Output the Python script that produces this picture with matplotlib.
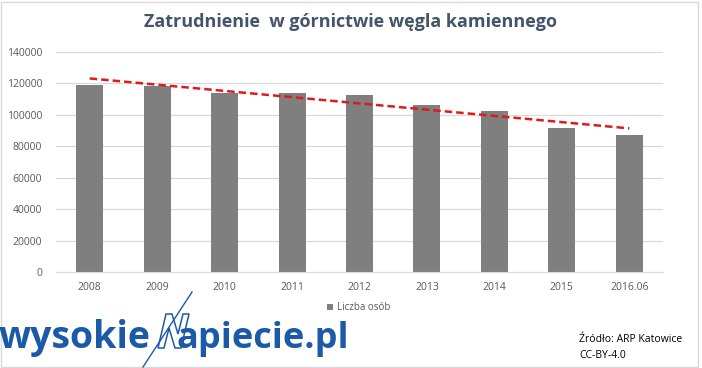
import matplotlib
matplotlib.use("Agg")
import matplotlib.pyplot as plt
import numpy as np
from matplotlib.patches import Rectangle, Polygon

categories = ["2008", "2009", "2010", "2011", "2012", "2013", "2014", "2015", "2016.06"]
values = [119000, 118400, 114100, 113900, 112600, 106300, 102500, 91600, 87200]
yticks = [0, 20000, 40000, 60000, 80000, 100000, 120000, 140000]

plt.rcParams['font.family'] = ['Open Sans', 'DejaVu Sans']

fig = plt.figure(figsize=(7.02, 3.68), dpi=100)
W, H = 702, 368
ax = fig.add_axes([56 / W, 1 - 272 / H, (663 - 56) / W, (272 - 52) / H])

x = np.arange(len(categories))
ax.bar(x, values, width=0.4, color="#7F7F7F", label="Liczba osób", zorder=2)

# linear trend line (Excel-style)
coef = np.polyfit(x, values, 1)
ax.plot(x, np.polyval(coef, x), color="#E0191B", linestyle=(0, (3, 1.6)), linewidth=1.8, zorder=3)

ax.set_xlim(-0.5, len(categories) - 0.5)
ax.set_ylim(0, 140000)
ax.set_yticks(yticks)
ax.set_yticklabels([str(v) for v in yticks])
ax.set_xticks(x)
ax.set_xticklabels(categories)
ax.tick_params(axis='both', length=0, labelsize=7.5, colors="#595959")
ax.tick_params(axis='y', pad=10)
ax.tick_params(axis='x', pad=7)
ax.grid(axis='y', color="#D9D9D9", linewidth=0.9, zorder=0)
for s in ["top", "right", "left"]:
    ax.spines[s].set_visible(False)
ax.spines["bottom"].set_color("#D9D9D9")

fig.text(351 / W, 1 - 22 / H, "Zatrudnienie  w górnictwie węgla kamiennego",
         ha="center", va="center", fontsize=13, fontweight="bold", color="#44546A")

# legend
fig.patches.append(Rectangle((327 / W, 1 - 310 / H), 6 / W, 6 / H, transform=fig.transFigure,
                             facecolor="#7F7F7F", edgecolor="none"))
fig.text(337 / W, 1 - 307 / H, "Liczba osób", ha="left", va="center", fontsize=7, color="#595959")

# logo
blue = "#1B5AA6"
fig.text(-1 / W, 1 - 348 / H, "wysokie", ha="left", va="baseline", fontsize=27,
         fontweight="bold", color=blue)
fig.text(177 / W, 1 - 348 / H, "apiecie.pl", ha="left", va="baseline", fontsize=26,
         fontweight="bold", color=blue)
npts = [(158, 348), (166, 314), (172, 314), (178, 334), (183, 314), (189, 314),
        (181, 348), (175, 348), (169, 328), (164, 348)]
fig.patches.append(Polygon([(px / W, 1 - py / H) for px, py in npts], closed=True,
                           transform=fig.transFigure, facecolor="white", edgecolor=blue, linewidth=1.1))
fig.lines.append(plt.Line2D([143 / W, 192 / W], [1 - 367 / H, 1 - 292 / H], transform=fig.transFigure,
                            color=blue, linewidth=1.0))

fig.text(579 / W, 1 - 339 / H, "Źródło: ARP Katowice", ha="left", va="center", fontsize=7.5, color="black")
fig.text(579 / W, 1 - 356 / H, "CC-BY-4.0", ha="left", va="center", fontsize=7.5, color="black")

# outer border
fig.patches.append(Rectangle((1 / W, 1 / H), 697 / W, 365 / H, transform=fig.transFigure,
                             facecolor="none", edgecolor="#D9D9D9", linewidth=1))

fig.savefig("out.png", dpi=100)
